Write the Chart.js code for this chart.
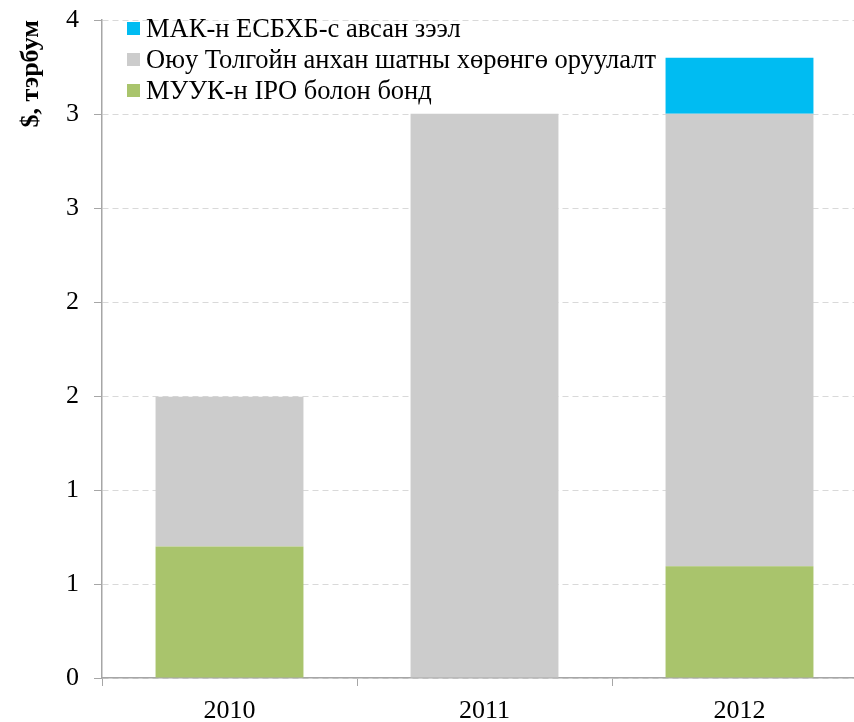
<!DOCTYPE html>
<html><head><meta charset="utf-8">
<script src="https://cdn.jsdelivr.net/npm/chart.js@4"></script>
<style>
html,body{margin:0;padding:0;background:#fff;overflow:hidden;width:854px;height:722px;}
#wrap{position:absolute;left:0;top:0;width:868px;height:722px;}
#legend{position:absolute;left:127px;top:13px;font-family:"Liberation Serif","Times New Roman",serif;font-size:26.5px;color:#000;line-height:31px;}
#legend .it{display:flex;align-items:center;white-space:nowrap;height:31px;}
#legend .sw{width:13px;height:13px;margin-right:6px;display:inline-block;}
</style></head>
<body>
<div id="wrap"><canvas id="c" width="868" height="722"></canvas></div>
<div id="legend"></div>
<script>
const categories = ["2010", "2011", "2012"];
const seriesNames = ["МУУК-н IPO болон бонд", "Оюу Толгойн анхан шатны хөрөнгө оруулалт", "МАК-н ЕСБХБ-с авсан зээл"];
const ipoBond = [0.80, 0, 0.68];
const oyuTolgoi = [0.91, 3.43, 2.75];
const makLoan = [0, 0, 0.34];
const seriesColors = ["#a9c46c", "#cccccc", "#00bcf2"];
const yTitle = "$, тэрбум";

const seriesData = [ipoBond, oyuTolgoi, makLoan];
const datasets = seriesNames.map((n, i) => ({
  label: n, data: seriesData[i], backgroundColor: seriesColors[i],
  borderWidth: 0, barPercentage: 0.58, categoryPercentage: 1.0
}));

// legend (top to bottom: reversed order)
const lg = document.getElementById('legend');
for (let i = seriesNames.length - 1; i >= 0; i--) {
  const d = document.createElement('div'); d.className = 'it';
  const s = document.createElement('span'); s.className = 'sw'; s.style.background = seriesColors[i];
  const t = document.createElement('span'); t.textContent = seriesNames[i];
  d.appendChild(s); d.appendChild(t); lg.appendChild(d);
}

const font = "'Liberation Serif','Times New Roman',serif";
new Chart(document.getElementById('c'), {
  type: 'bar',
  data: { labels: categories, datasets },
  options: {
    responsive: false, animation: false,
    layout: { padding: { top: 20, right: 1, left: 0, bottom: 0 } },
    plugins: { legend: { display: false }, tooltip: { enabled: false } },
    scales: {
      x: {
        stacked: true,
        grid: { display: true, drawOnChartArea: false, offset: true, tickLength: 8, color: '#a6a6a6', lineWidth: 1 },
        border: { color: '#a6a6a6', width: 1.5 },
        ticks: { color: '#000', font: { family: font, size: 26 }, padding: 10, maxRotation: 0 },
        afterFit: s => { s.height = 44; s.paddingLeft = 0; s.paddingRight = 0; }
      },
      y: {
        stacked: true, min: 0, max: 4,
        grid: { color: '#d9d9d9', tickBorderDash: [0, 0], tickColor: '#a6a6a6', tickLength: 8, lineWidth: 1 },
        border: { color: '#a6a6a6', width: 1.5, dash: [6, 4] },
        ticks: { count: 8, color: '#000', font: { family: font, size: 26 }, padding: 15,
          callback: v => String(Math.round(v)) },
        title: { display: true, text: yTitle, align: 'end', color: '#000',
          font: { family: font, size: 26, weight: 'bold' }, padding: { top: 16, bottom: 0 } },
        afterFit: s => { s.width = 102; s.paddingTop = 0; s.paddingBottom = 0; }
      }
    }
  }
});
</script>
</body></html>
